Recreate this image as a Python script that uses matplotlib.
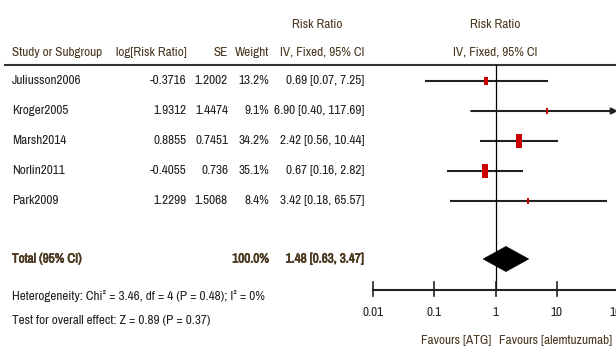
import matplotlib.pyplot as plt
import matplotlib.patheffects as pe
from matplotlib.path import Path
from matplotlib.patches import Polygon
from matplotlib import font_manager

studies = ['Juliusson2006', 'Kroger2005', 'Marsh2014', 'Norlin2011', 'Park2009']
log_rr = [-0.3716, 1.9312, 0.8855, -0.4055, 1.2299]
se = [1.2002, 1.4474, 0.7451, 0.736, 1.5068]
weight = [13.2, 9.1, 34.2, 35.1, 8.4]
rr = [0.69, 6.90, 2.42, 0.67, 3.42]
ci_lo = [0.07, 0.40, 0.56, 0.16, 0.18]
ci_hi = [7.25, 117.69, 10.44, 2.82, 65.57]

total_rr, total_lo, total_hi = 1.48, 0.63, 3.47
total_weight = 100.0
heterogeneity = 'Heterogeneity: Chi² = 3.46, df = 4 (P = 0.48); I² = 0%'
overall = 'Test for overall effect: Z = 0.89 (P = 0.37)'
ticks = [0.01, 0.1, 1, 10, 100]
tick_labels = ['0.01', '0.1', '1', '10', '100']
favours = ['Favours [ATG]', 'Favours [alemtuzumab]']

# narrow sans for the table text, with a size that suits each face
names = {f.name for f in font_manager.fontManager.ttflist}
family, fs = 'Liberation Sans', 8.0
for cand, size in [('Liberation Sans Narrow', 9.5), ('Archivo Narrow', 9.5),
                   ('Barlow Condensed', 9.7), ('Roboto Condensed', 9.5)]:
    if cand in names:
        family, fs = cand, size
        break
plt.rcParams['font.family'] = [family, 'DejaVu Sans']

W, H = 616, 349
head_col = '#4a3820'
txt_col = '#222222'
bold_h = [pe.withStroke(linewidth=0.5, foreground=head_col)]

fig = plt.figure(figsize=(W / 100, H / 100), dpi=100)

# text layer in pixel coordinates
tx = fig.add_axes([0, 0, 1, 1])
tx.set_xlim(0, W)
tx.set_ylim(H, 0)
tx.axis('off')

# forest layer: log x, pixel y; the axis runs a little past the right edge
x0, x1 = 373, 618
fx = fig.add_axes([x0 / W, 0, (x1 - x0) / W, 1])
fx.set_xscale('log')
fx.set_xlim(ticks[0], ticks[-1])
fx.set_ylim(H, 0)
fx.axis('off')
fx.patch.set_alpha(0)

row0, step = 81, 30
col_log, col_se, col_w, col_rr = 187, 228, 269, 364


def head(x, y, s, ha='right'):
    tx.text(x, y, s, ha=ha, va='center', fontsize=fs, color=head_col)


def cell(x, y, s, ha='right'):
    tx.text(x, y, s, ha=ha, va='center', fontsize=fs, color=txt_col)


# headers
head(317, 25, 'Risk Ratio', 'center')
head(495, 25, 'Risk Ratio', 'center')
hy = 52
head(12, hy, 'Study or Subgroup', 'left')
head(col_log, hy, 'log[Risk Ratio]')
head(col_se, hy, 'SE')
head(col_w, hy, 'Weight')
head(col_rr, hy, 'IV, Fixed, 95% CI')
head(495, hy, 'IV, Fixed, 95% CI', 'center')
tx.plot([5, W], [65, 65], color='#333333', lw=1.5)

# square marker, taller than wide
rect = Path([(-0.45, -1), (0.45, -1), (0.45, 1), (-0.45, 1), (-0.45, -1)],
            [Path.MOVETO, Path.LINETO, Path.LINETO, Path.LINETO, Path.CLOSEPOLY])

for i, name in enumerate(studies):
    y = row0 + step * i
    cell(12, y, name, 'left')
    cell(col_log, y, str(log_rr[i]))
    cell(col_se, y, str(se[i]))
    cell(col_w, y, f'{weight[i]:.1f}%')
    cell(col_rr, y, f'{rr[i]:.2f} [{ci_lo[i]:.2f}, {ci_hi[i]:.2f}]')

    hi = min(ci_hi[i], ticks[-1])
    if ci_hi[i] > ticks[-1]:
        fx.annotate('', xy=(hi, y), xytext=(ci_lo[i], y),
                    arrowprops=dict(arrowstyle='-|>', color=txt_col, lw=1.5,
                                    mutation_scale=9, shrinkA=0, shrinkB=0),
                    annotation_clip=False)
    else:
        fx.plot([ci_lo[i], hi], [y, y], color=txt_col, lw=1.5, solid_capstyle='butt')
    size_px = 1.24 * weight[i] ** 0.7
    fx.plot(rr[i], y, marker=rect, markersize=size_px * 0.72, color='#cc0000',
            markeredgewidth=0, zorder=3)

# pooled estimate
ty = 259
for x, s, ha in [(12, 'Total (95% CI)', 'left'),
                 (col_w, f'{total_weight:.1f}%', 'right'),
                 (col_rr, f'{total_rr:.2f} [{total_lo:.2f}, {total_hi:.2f}]', 'right')]:
    tx.text(x, ty, s, ha=ha, va='center', fontsize=fs, color=head_col, path_effects=bold_h)
dh = 12.5
fx.add_patch(Polygon([(total_lo, ty), (total_rr, ty - dh), (total_hi, ty), (total_rr, ty + dh)],
                     closed=True, facecolor='black', edgecolor='black', lw=0.5, zorder=3))

cell(12, 296, heterogeneity, 'left')
cell(12, 321, overall, 'left')

# null line and x axis
ay = 290
fx.plot([1, 1], [65, ay], color='black', lw=0.9)
fx.plot([ticks[0], ticks[-1]], [ay, ay], color=txt_col, lw=1.5, clip_on=False)
for t, lab in zip(ticks, tick_labels):
    fx.plot([t, t], [282, 296], color=txt_col, lw=1.2, clip_on=False)
    fx.text(t, 312, lab, ha='center', va='center', fontsize=fs, color=txt_col, clip_on=False)
fx.text(0.86, 340, favours[0], ha='right', va='center', fontsize=fs, color=head_col)
fx.text(1.14, 340, favours[1], ha='left', va='center', fontsize=fs, color=head_col)

fig.savefig('out.png', dpi=100)
